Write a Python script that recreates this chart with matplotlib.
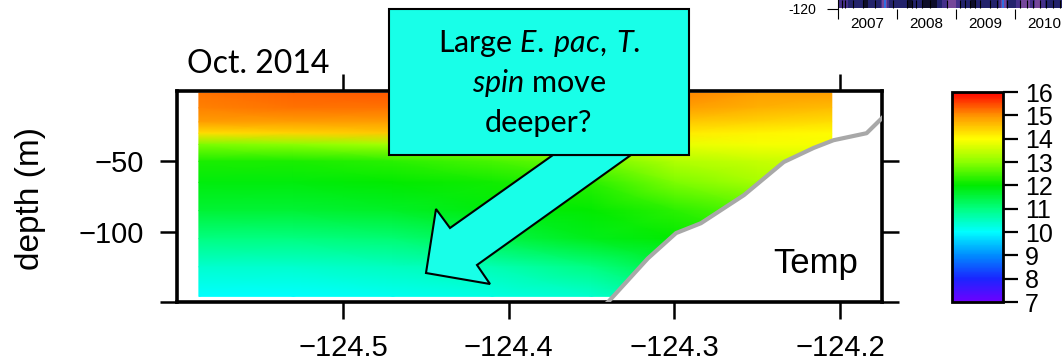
import numpy as np
import matplotlib
matplotlib.use('Agg')
import matplotlib.pyplot as plt
from matplotlib.colors import LinearSegmentedColormap, ListedColormap
from matplotlib.patches import Polygon, Rectangle

plt.rcParams['font.family'] = ['Liberation Sans', 'DejaVu Sans']
plt.rcParams['mathtext.fontset'] = 'custom'
plt.rcParams['mathtext.rm'] = 'Lato'
plt.rcParams['mathtext.it'] = 'Lato:italic'

# temperature section, Oct. 2014
temp_lon = [-124.587, -124.53, -124.47, -124.41, -124.35, -124.30, -124.25, -124.205]
temp_depth = [-1.5, -12, -22, -30, -38, -50, -65, -85, -105, -125, -146]
temp = [
    [15.2, 15.3, 15.4, 15.4, 15.3, 15.1, 14.9, 14.9],
    [15.1, 15.2, 15.2, 15.2, 15.1, 14.9, 14.7, 14.6],
    [14.9, 14.9, 14.9, 14.8, 14.7, 14.5, 14.4, 14.3],
    [14.3, 14.4, 14.5, 14.4, 14.3, 14.2, 14.1, 14.0],
    [12.9, 13.0, 13.2, 13.3, 13.6, 13.8, 13.9, 13.9],
    [12.2, 12.2, 12.3, 12.5, 12.8, 13.3, 13.5, 13.6],
    [11.9, 11.9, 12.0, 12.1, 12.3, 12.9, 13.2, 13.3],
    [11.6, 11.6, 11.7, 11.9, 12.0, 12.3, 12.6, 12.6],
    [11.0, 11.0, 11.1, 11.4, 11.8, 12.0, 12.2, 12.2],
    [10.4, 10.4, 10.5, 10.6, 11.0, 11.5, 11.8, 11.8],
    [10.0, 10.0, 10.1, 10.2, 10.4, 10.8, 11.2, 11.2],
]

# sea floor
bathy_lon = [-124.346, -124.340, -124.316, -124.299, -124.284, -124.258, -124.234,
             -124.216, -124.204, -124.184, -124.1745, -124.168]
bathy_depth = [-156, -150, -119, -101, -94, -74, -50.5, -40.5, -35, -30, -19, -12]

xticks = [-124.5, -124.4, -124.3, -124.2]
yticks = [-150, -100, -50]
ytick_labels = ['', '\u2212100', '\u221250']
cbar_ticks = list(range(7, 17))

# corner of the neighbouring panel (time strip)
strip_codes = [2, 2, 1, 1, 1, 0, 1, 1, 1, 4, 1, 1, 1, 1, 0, 1, 1, 0, 0, 0, 1, 2, 3, 3, 2,
               1, 1, 0, 1, 1, 1, 1, 1, 4, 1, 1, 2, 3, 3, 2, 3, 2, 1, 1, 1, 1]
strip_palette = ['#0e0e2a', '#23236c', '#45308a', '#76479a', '#2f6fe0']
rug_years = [2007.06, 2007.12, 2007.26, 2007.43, 2007.63, 2007.94, 2008.17, 2008.25,
             2008.33, 2008.42, 2008.56, 2008.84, 2009.07, 2009.15, 2009.24, 2009.32,
             2009.41, 2009.58, 2009.69, 2009.86, 2010.08, 2010.20, 2010.31, 2010.42,
             2010.53, 2010.65, 2010.76]
years = [2007, 2008, 2009, 2010]

W, H = 1062, 362


def px(x, y):
    return (x / W, 1 - y / H)


cmap = LinearSegmentedColormap.from_list('temp', [
    (0 / 9, (0.43, 0.0, 1.0)),
    (1 / 9, (0.10, 0.15, 1.0)),
    (2 / 9, (0.0, 0.55, 1.0)),
    (3 / 9, (0.0, 1.0, 1.0)),
    (4 / 9, (0.0, 1.0, 0.5)),
    (5 / 9, (0.0, 0.92, 0.0)),
    (6 / 9, (0.55, 1.0, 0.0)),
    (7 / 9, (1.0, 1.0, 0.0)),
    (8 / 9, (1.0, 0.58, 0.0)),
    (9 / 9, (1.0, 0.0, 0.0)),
])

fig = plt.figure(figsize=(W / 100, H / 100), dpi=100)

# main section
ax = fig.add_axes([177 / W, 1 - 302 / H, 705 / W, 211 / H])
X, Y = np.meshgrid(temp_lon, temp_depth)
mesh = ax.pcolormesh(X, Y, np.array(temp), cmap=cmap, vmin=7, vmax=16, shading='gouraud')
ax.fill_between(bathy_lon, bathy_depth, -160, color='white', lw=0, zorder=2)
ax.plot(bathy_lon, bathy_depth, color='#a8a8a8', lw=3, zorder=3)
ax.set_xlim(-124.6002, -124.1747)
ax.set_ylim(-150, 0)
ax.set_xticks(xticks)
ax.set_xticklabels(['\u2212%.1f' % abs(v) for v in xticks])
ax.set_yticks(yticks)
ax.set_yticklabels(ytick_labels)
ax.tick_params(direction='out', length=12, width=1.8, labelsize=21, top=True, right=True)
ax.tick_params(axis='x', pad=11)
ax.tick_params(axis='y', pad=12)
for s in ax.spines.values():
    s.set_linewidth(2.6)
ax.text(0.966, 0.137, 'Temp', transform=ax.transAxes, ha='right', va='baseline',
        fontsize=25, zorder=4)

fig.text(31 / W, 1 - 198 / H, 'depth (m)', rotation=90, ha='center', va='center', fontsize=24)
fig.text(187 / W, 1 - 73 / H, 'Oct. 2014', family='Lato', fontsize=23, ha='left', va='baseline')

# colour bar
cax = fig.add_axes([952 / W, 1 - 302 / H, 51 / W, 210 / H])
cb = fig.colorbar(mesh, cax=cax, ticks=cbar_ticks)
cb.outline.set_linewidth(2)
cax.tick_params(length=11, width=1.6, labelsize=18, pad=5)

# neighbouring panel corner
mx = fig.add_axes([838 / W, 1 - 9 / H, 240 / W, 40 / H])
mx.imshow([strip_codes], cmap=ListedColormap(strip_palette), vmin=-0.5, vmax=4.5,
          aspect='auto', extent=[2007, 2007 + len(strip_codes) / 12, -119.5, -90],
          interpolation='bilinear')
mx.vlines(rug_years, -119.5, -113, color='black', lw=0.8)
mx.set_xlim(2007, 2007 + 240 / 59)
mx.set_ylim(-120, -90)
for side in ['top', 'right', 'bottom']:
    mx.spines[side].set_visible(False)
mx.spines['left'].set_linewidth(0.8)
mx.set_xticks(years)
mx.set_xticklabels([])
mx.set_xticks([y + 0.5 for y in years], minor=True)
mx.set_xticklabels([str(y) for y in years], minor=True)
mx.tick_params(axis='x', which='major', length=7, width=0.8)
mx.tick_params(axis='x', which='minor', length=0, labelsize=11, pad=6)
mx.set_yticks([-120])
mx.set_yticklabels(['-120'])
mx.tick_params(axis='y', length=8, width=0.8, labelsize=10, pad=8)

# callout
arrow_px = [(631, 155), (553, 155), (450, 228), (436, 209), (426, 273), (490, 284), (477, 265)]
fig.add_artist(Polygon([px(x, y) for x, y in arrow_px], closed=True, transform=fig.transFigure,
                       facecolor='#18ffe8', edgecolor='black', lw=1.5, zorder=5))
x0, y0 = px(389, 155)
fig.add_artist(Rectangle((x0, y0), 300 / W, 146 / H, transform=fig.transFigure,
                         facecolor='#18ffe8', edgecolor='black', lw=1.5, zorder=6))
box_lines = [r'Large $\mathit{E.}\:\mathit{pac,}\:\mathit{T.}$',
             r'$\mathit{spin}$ move', 'deeper?']
for i, line in enumerate(box_lines):
    fig.text(539 / W, 1 - (52 + 40 * i) / H, line, family='Lato', fontsize=22,
             ha='center', va='baseline', zorder=7)

fig.savefig('out.png', dpi=100)
